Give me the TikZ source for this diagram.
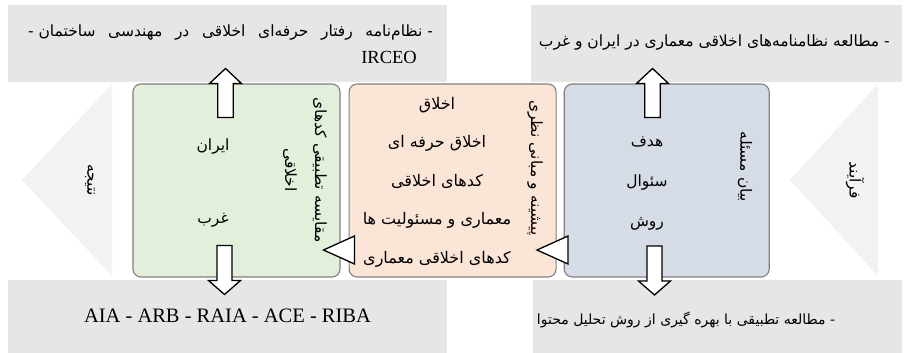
\documentclass[tikz,border=0pt]{standalone}
\usepackage{fontspec}
\setmainfont{Liberation Serif}
\newfontfamily\farsifont[Script=Arabic]{DejaVu Sans}
\TeXXeTstate=1
\usetikzlibrary{positioning,calc}
\definecolor{boxgray}{HTML}{E7E6E6}
\definecolor{palegray}{HTML}{F2F2F2}
\definecolor{greenfill}{HTML}{E2EFDA}
\definecolor{pinkfill}{HTML}{FBE5D6}
\definecolor{bluefill}{HTML}{D6DCE5}
\definecolor{edgegray}{HTML}{808080}
\newcommand{\pers}[1]{{\farsifont\beginR #1\endR}}

\begin{document}
\begin{tikzpicture}[x=1pt,y=-1pt,
  stage/.style={draw=edgegray, line width=1.1pt, rounded corners=8pt, minimum width=207pt, minimum height=193pt, inner sep=0pt},
  infobox/.style={fill=boxgray, inner sep=0pt},
  fa/.style={font=\fontsize{15.5}{18}\selectfont, inner sep=1pt},
  lat/.style={font=\fontsize{20.5}{24}\selectfont, inner sep=1pt},
  blockarrow/.style={draw=black, fill=white, line width=1.3pt, line join=miter},
  upblock/.pic={\draw[blockarrow] (0,0) -- (16,15) -- (7.7,15) -- (7.7,49) -- (-7.7,49) -- (-7.7,15) -- (-16,15) -- cycle;},
  downblock/.pic={\draw[blockarrow] (0,0) -- (16,-14) -- (7.5,-14) -- (7.5,-49) -- (-7.5,-49) -- (-7.5,-14) -- (-16,-14) -- cycle;},
  pointer/.pic={\draw[blockarrow] (0,0) -- (31,-14) -- (31,14) -- cycle;}]
\useasboundingbox (0,0) rectangle (908,353);

% PROCESS ARROWS (background)

\fill[palegray] (22,180) -- (112,84) -- (112,276) -- cycle;
\fill[palegray] (790,180) -- (878,84) -- (878,276) -- cycle;

\node[fa, rotate=-90] (result) at (90,180) {\pers{نتیجه}};
\node[fa, rotate=-90] (process) at (855,180) {\pers{فرآیند}};

% INFO BOXES

\node[infobox, minimum width=439pt, minimum height=77pt] (codes) at (227.5,43.5) {};
\node[infobox, minimum width=371pt, minimum height=77pt] (study) at (716.5,43.5) {};
\node[infobox, minimum width=439pt, minimum height=73pt] (bodies) at (227.5,316.5) {};
\node[infobox, minimum width=369pt, minimum height=73pt] (method) at (717.5,316.5) {};

\node[fa] (codestext) at (230.5,33) {\hbox to 405pt{\farsifont\beginR -\ نظام‌نامه\hfill رفتار\hfill حرفه‌ای\hfill اخلاقی\hfill در\hfill مهندسی\hfill ساختمان\ -\endR}};
\node[lat, anchor=east, font=\fontsize{18.5}{22}\selectfont] (irceo) at (418,57) {IRCEO};
\node[fa, anchor=east] (studytext) at (891,43) {\pers{- مطالعه نظامنامه‌های اخلاقی معماری در ایران و غرب}};
\node[lat] (bodiestext) at (227.5,316) {AIA - ARB - RAIA - ACE - RIBA};
\node[fa, font=\fontsize{14}{17}\selectfont] (methodtext) at (686,320) {\pers{- مطالعه تطبیقی با بهره گیری از روش تحلیل محتوا}};

% STAGES

\node[stage, fill=greenfill] (compare) at (236.5,180.5) {};
\node[stage, fill=pinkfill, right=8pt of compare] (theory) {};
\node[stage, fill=bluefill, right=7pt of theory, minimum width=205pt] (problem) {};

% BLOCK ARROWS

\pic at (225.5,68.5) {upblock};
\pic at (224.5,294.5) {downblock};
\pic at (652.5,68.5) {upblock};
\pic at (654.5,295) {downblock};

\pic at (323.5,250) {pointer};
\pic at (537,250) {pointer};

% STAGE TEXTS

\node[fa, rotate=-90, align=center, font=\fontsize{15.5}{30}\selectfont] (comparetitle) at (305,170) {\pers{مقایسه تطبیقی کدهای}\\\pers{اخلاقی}};
\node[fa] (iran) at (213,147) {\pers{ایران}};
\node[fa] (west) at (213,220) {\pers{غرب}};

\node[fa, rotate=-90] (theorytitle) at (535,168) {\pers{پیشینه و مبانی نظری}};
\node[fa, align=center, font=\fontsize{16}{38.5}\selectfont] (theorylist) at (437,182) {\pers{اخلاق}\\\pers{اخلاق حرفه ای}\\\pers{کدهای اخلاقی}\\\pers{معماری و مسئولیت ها}\\\pers{کدهای اخلاقی معماری}};

\node[fa, rotate=-90] (problemtitle) at (745,167) {\pers{بیان مسئله}};
\node[fa, align=center, font=\fontsize{15.5}{40}\selectfont] (problemlist) at (647,183) {\pers{هدف}\\\pers{سئوال}\\\pers{روش}};

\end{tikzpicture}
\end{document}
